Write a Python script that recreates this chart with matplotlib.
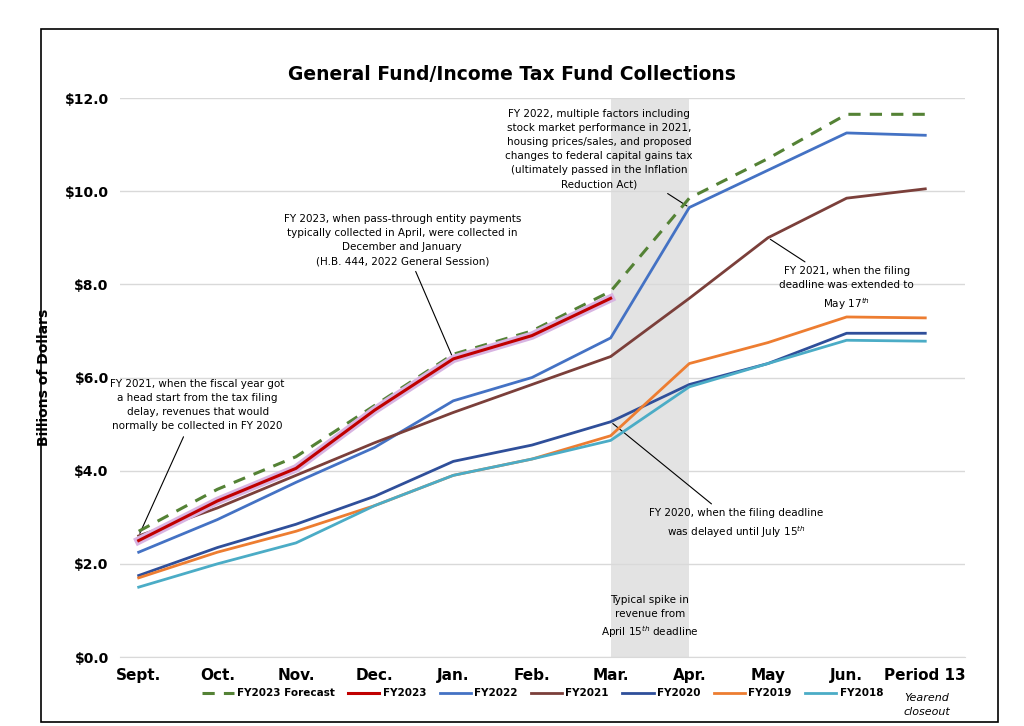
import matplotlib.pyplot as plt
import matplotlib.patheffects as pe
from matplotlib.patches import Rectangle
from matplotlib.lines import Line2D

months = ["Sept.", "Oct.", "Nov.", "Dec.", "Jan.", "Feb.", "Mar.", "Apr.", "May", "Jun.", "Period 13"]
fy2023_forecast = [2.70, 3.60, 4.30, 5.40, 6.50, 7.00, 7.85, 9.85, 10.70, 11.65, 11.65]
fy2023 = [2.50, 3.35, 4.05, 5.30, 6.40, 6.90, 7.70]
fy2022 = [2.25, 2.95, 3.75, 4.50, 5.50, 6.00, 6.85, 9.65, 10.45, 11.25, 11.20]
fy2021 = [2.60, 3.20, 3.90, 4.60, 5.25, 5.85, 6.45, 7.70, 9.00, 9.85, 10.05]
fy2020 = [1.75, 2.35, 2.85, 3.45, 4.20, 4.55, 5.05, 5.85, 6.30, 6.95, 6.95]
fy2019 = [1.70, 2.25, 2.70, 3.25, 3.90, 4.25, 4.75, 6.30, 6.75, 7.30, 7.28]
fy2018 = [1.50, 2.00, 2.45, 3.25, 3.90, 4.25, 4.65, 5.80, 6.30, 6.80, 6.78]

fig = plt.figure(figsize=(10.24, 7.26), dpi=100)
ax = fig.add_axes([0.117, 0.095, 0.825, 0.77])
fig.patches.append(Rectangle((0.04, 0.005), 0.935, 0.955, transform=fig.transFigure,
                             fill=False, edgecolor="black", linewidth=1.2))

x = list(range(len(months)))
ax.axvspan(6, 7, color="#dcdcdc", alpha=0.8, zorder=0, linewidth=0)

series = [
    ("FY2023 Forecast", fy2023_forecast, "#548235"),
    ("FY2023", fy2023, "#c00000"),
    ("FY2022", fy2022, "#4472c4"),
    ("FY2021", fy2021, "#7b3f3a"),
    ("FY2020", fy2020, "#2f4f9a"),
    ("FY2019", fy2019, "#ed7d31"),
    ("FY2018", fy2018, "#4bacc6"),
]
handles = []
for name, vals, color in series:
    xs = x[:len(vals)]
    if name == "FY2023 Forecast":
        ax.plot(xs, vals, color=color, linestyle=(0, (4, 3)), linewidth=2.2, zorder=5)
        handles.append(Line2D([0], [0], color=color, linestyle=(0, (4, 3)), linewidth=2.2, label=name))
    elif name == "FY2023":
        ax.plot(xs, vals, color=color, linewidth=2.2, zorder=6,
                path_effects=[pe.Stroke(linewidth=6, foreground="#d8b4e2"), pe.Normal()])
        handles.append(Line2D([0], [0], color=color, linewidth=2.2, label=name))
    else:
        ax.plot(xs, vals, color=color, linewidth=2, zorder=4)
        handles.append(Line2D([0], [0], color=color, linewidth=2, label=name))

ax.set_xlim(-0.24, 10.5)
ax.set_ylim(0, 12)
ax.set_yticks([0, 2, 4, 6, 8, 10, 12])
ax.set_yticklabels([f"${v:.1f}" for v in [0, 2, 4, 6, 8, 10, 12]], fontweight="bold", fontsize=10)
ax.set_xticks(x)
ax.set_xticklabels(months, fontweight="bold", fontsize=11)
ax.tick_params(length=0, pad=8)
ax.grid(axis="y", color="#d9d9d9", linewidth=1)
for s in ax.spines.values():
    s.set_visible(False)
ax.spines["bottom"].set_visible(True)
ax.spines["bottom"].set_color("#d9d9d9")
ax.set_axisbelow(True)
ax.set_ylabel("Billions of Dollars", fontweight="bold", fontsize=10, labelpad=10)
fig.text(0.5, 0.89, "General Fund/Income Tax Fund Collections", ha="center", fontsize=13.5, fontweight="bold")

fig.legend(handles=handles, loc="lower center", bbox_to_anchor=(0.53, 0.025), ncol=7, frameon=False,
           prop={"weight": "bold", "size": 7.5}, handlelength=3, columnspacing=1.3, handletextpad=0.3)
fig.text(0.905, 0.015, "Yearend\ncloseout", ha="center", fontsize=8, style="italic", linespacing=1.5)

fs = 7.5
arrow = dict(arrowstyle="-", color="black", linewidth=0.8)
ax.annotate("FY 2021, when the fiscal year got\na head start from the tax filing\ndelay, revenues that would\nnormally be collected in FY 2020",
            xy=(0, 2.6), xytext=(0.75, 5.4), ha="center", va="center", fontsize=fs, arrowprops=arrow, linespacing=1.5)
ax.annotate("FY 2023, when pass-through entity payments\ntypically collected in April, were collected in\nDecember and January\n(H.B. 444, 2022 General Session)",
            xy=(4, 6.4), xytext=(3.35, 8.95), ha="center", va="center", fontsize=fs, arrowprops=arrow, linespacing=1.5)
ax.annotate("FY 2022, multiple factors including\nstock market performance in 2021,\nhousing prices/sales, and proposed\nchanges to federal capital gains tax\n(ultimately passed in the Inflation\nReduction Act)",
            xy=(7, 9.65), xytext=(5.85, 10.9), ha="center", va="center", fontsize=fs, arrowprops=arrow, linespacing=1.5)
ax.annotate("FY 2021, when the filing\ndeadline was extended to\nMay 17$^{th}$",
            xy=(8, 9.0), xytext=(9.0, 7.9), ha="center", va="center", fontsize=fs, arrowprops=arrow, linespacing=1.5)
ax.annotate("FY 2020, when the filing deadline\nwas delayed until July 15$^{th}$",
            xy=(6, 5.05), xytext=(7.6, 2.85), ha="center", va="center", fontsize=fs, arrowprops=arrow, linespacing=1.5)
ax.text(6.5, 0.85, "Typical spike in\nrevenue from\nApril 15$^{th}$ deadline", ha="center", va="center", fontsize=fs, linespacing=1.5)

fig.savefig("out.png", dpi=100)
